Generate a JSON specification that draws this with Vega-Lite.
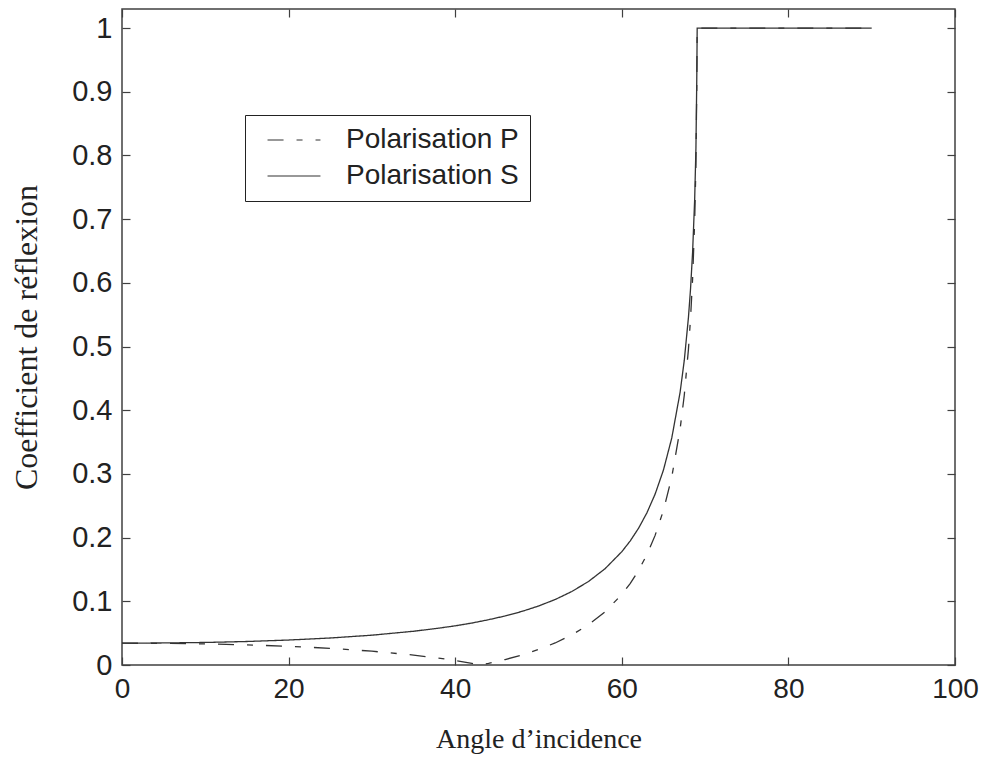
{
  "$schema": "https://vega.github.io/schema/vega-lite/v6.json",
  "autosize": {"type": "none"},
  "padding": {"left": 122, "top": 9, "right": 30, "bottom": 100},
  "width": 833,
  "height": 656,
  "background": "white",
  "config": {
    "view": {"stroke": "#404040", "strokeWidth": 1.5},
    "axis": {
      "grid": false,
      "domain": false,
      "tickColor": "#404040",
      "tickSize": -8,
      "tickWidth": 1.2,
      "labelFlush": false,
      "labelFont": "Liberation Sans",
      "labelFontSize": 28,
      "labelColor": "#222",
      "titleFont": "Liberation Serif",
      "titleFontWeight": "normal",
      "titleColor": "#222"
    }
  },
  "data": {
    "values": [
      {"angle": 0, "r": 0.0343, "series": "Polarisation S"},
      {"angle": 5, "r": 0.0346, "series": "Polarisation S"},
      {"angle": 10, "r": 0.0354, "series": "Polarisation S"},
      {"angle": 15, "r": 0.0369, "series": "Polarisation S"},
      {"angle": 20, "r": 0.0392, "series": "Polarisation S"},
      {"angle": 25, "r": 0.0424, "series": "Polarisation S"},
      {"angle": 30, "r": 0.0468, "series": "Polarisation S"},
      {"angle": 35, "r": 0.0530, "series": "Polarisation S"},
      {"angle": 38, "r": 0.0578, "series": "Polarisation S"},
      {"angle": 40, "r": 0.0615, "series": "Polarisation S"},
      {"angle": 42, "r": 0.0659, "series": "Polarisation S"},
      {"angle": 44, "r": 0.0711, "series": "Polarisation S"},
      {"angle": 46, "r": 0.0770, "series": "Polarisation S"},
      {"angle": 48, "r": 0.0841, "series": "Polarisation S"},
      {"angle": 50, "r": 0.0926, "series": "Polarisation S"},
      {"angle": 52, "r": 0.1028, "series": "Polarisation S"},
      {"angle": 54, "r": 0.1154, "series": "Polarisation S"},
      {"angle": 56, "r": 0.1311, "series": "Polarisation S"},
      {"angle": 58, "r": 0.1513, "series": "Polarisation S"},
      {"angle": 60, "r": 0.1779, "series": "Polarisation S"},
      {"angle": 61, "r": 0.1946, "series": "Polarisation S"},
      {"angle": 62, "r": 0.2145, "series": "Polarisation S"},
      {"angle": 63, "r": 0.2385, "series": "Polarisation S"},
      {"angle": 64, "r": 0.2683, "series": "Polarisation S"},
      {"angle": 65, "r": 0.3061, "series": "Polarisation S"},
      {"angle": 66, "r": 0.3565, "series": "Polarisation S"},
      {"angle": 67, "r": 0.4282, "series": "Polarisation S"},
      {"angle": 67.5, "r": 0.4782, "series": "Polarisation S"},
      {"angle": 68, "r": 0.5456, "series": "Polarisation S"},
      {"angle": 68.25, "r": 0.5903, "series": "Polarisation S"},
      {"angle": 68.5, "r": 0.6482, "series": "Polarisation S"},
      {"angle": 68.75, "r": 0.7316, "series": "Polarisation S"},
      {"angle": 68.9, "r": 0.8115, "series": "Polarisation S"},
      {"angle": 69.0, "r": 0.9191, "series": "Polarisation S"},
      {"angle": 69.05, "r": 1, "series": "Polarisation S"},
      {"angle": 70, "r": 1, "series": "Polarisation S"},
      {"angle": 80, "r": 1, "series": "Polarisation S"},
      {"angle": 90, "r": 1, "series": "Polarisation S"},
      {"angle": 0, "r": 0.0343, "series": "Polarisation P"},
      {"angle": 5, "r": 0.0340, "series": "Polarisation P"},
      {"angle": 10, "r": 0.0331, "series": "Polarisation P"},
      {"angle": 15, "r": 0.0316, "series": "Polarisation P"},
      {"angle": 20, "r": 0.0294, "series": "Polarisation P"},
      {"angle": 25, "r": 0.0262, "series": "Polarisation P"},
      {"angle": 30, "r": 0.0217, "series": "Polarisation P"},
      {"angle": 35, "r": 0.0156, "series": "Polarisation P"},
      {"angle": 38, "r": 0.0108, "series": "Polarisation P"},
      {"angle": 40, "r": 0.0070, "series": "Polarisation P"},
      {"angle": 42, "r": 0.0026, "series": "Polarisation P"},
      {"angle": 43, "r": 0.0001, "series": "Polarisation P"},
      {"angle": 44, "r": 0.0026, "series": "Polarisation P"},
      {"angle": 46, "r": 0.0086, "series": "Polarisation P"},
      {"angle": 48, "r": 0.0157, "series": "Polarisation P"},
      {"angle": 50, "r": 0.0243, "series": "Polarisation P"},
      {"angle": 52, "r": 0.0346, "series": "Polarisation P"},
      {"angle": 54, "r": 0.0473, "series": "Polarisation P"},
      {"angle": 56, "r": 0.0632, "series": "Polarisation P"},
      {"angle": 58, "r": 0.0837, "series": "Polarisation P"},
      {"angle": 60, "r": 0.1107, "series": "Polarisation P"},
      {"angle": 61, "r": 0.1278, "series": "Polarisation P"},
      {"angle": 62, "r": 0.1482, "series": "Polarisation P"},
      {"angle": 63, "r": 0.1729, "series": "Polarisation P"},
      {"angle": 64, "r": 0.2035, "series": "Polarisation P"},
      {"angle": 65, "r": 0.2427, "series": "Polarisation P"},
      {"angle": 66, "r": 0.2952, "series": "Polarisation P"},
      {"angle": 67, "r": 0.3706, "series": "Polarisation P"},
      {"angle": 67.5, "r": 0.4236, "series": "Polarisation P"},
      {"angle": 68, "r": 0.4956, "series": "Polarisation P"},
      {"angle": 68.25, "r": 0.5438, "series": "Polarisation P"},
      {"angle": 68.5, "r": 0.6067, "series": "Polarisation P"},
      {"angle": 68.75, "r": 0.6980, "series": "Polarisation P"},
      {"angle": 68.9, "r": 0.7867, "series": "Polarisation P"},
      {"angle": 69.0, "r": 0.9078, "series": "Polarisation P"},
      {"angle": 69.05, "r": 1, "series": "Polarisation P"},
      {"angle": 70, "r": 1, "series": "Polarisation P"},
      {"angle": 90, "r": 1, "series": "Polarisation P"}
    ]
  },
  "layer": [
    {
      "mark": {"type": "line", "color": "#333", "strokeWidth": 1.3},
      "encoding": {
        "x": {
          "field": "angle", "type": "quantitative",
          "scale": {"domain": [0, 100], "nice": false, "zero": false},
          "axis": {"orient": "bottom", "values": [0, 20, 40, 60, 80, 100], "labelPadding": 18, "title": "Angle d’incidence", "titleFontSize": 28, "titlePadding": 22}
        },
        "y": {
          "field": "r", "type": "quantitative",
          "scale": {"domain": [0, 1.03], "nice": false, "zero": false},
          "axis": {"orient": "left", "values": [0, 0.1, 0.2, 0.3, 0.4, 0.5, 0.6, 0.7, 0.8, 0.9, 1], "labelExpr": "'' + datum.value", "labelPadding": 18, "labelFontSize": 29, "title": "Coefficient de réflexion", "titleFontSize": 32, "titlePadding": 28}
        },
        "strokeDash": {
          "field": "series", "type": "nominal",
          "scale": {"domain": ["Polarisation P", "Polarisation S"], "range": [[16, 13, 6, 13], [1, 0]]},
          "legend": {
            "title": null,
            "orient": "none",
            "legendX": 123,
            "legendY": 106,
            "strokeColor": "#222",
            "fillColor": "white",
            "padding": 11,
            "symbolType": "M-2,0H2",
            "symbolSize": 700,
            "symbolStrokeColor": "#333",
            "symbolStrokeWidth": 1.2,
            "symbolOffset": 24,
            "labelOffset": 38,
            "labelLimit": 0,
            "labelFont": "Liberation Sans",
            "labelFontSize": 28,
            "labelColor": "#222",
            "rowPadding": 8
          }
        }
      }
    },
    {
      "mark": {"type": "line", "opacity": 0},
      "encoding": {
        "x": {
          "field": "angle", "type": "quantitative",
          "axis": {"orient": "top", "values": [0, 20, 40, 60, 80, 100], "labels": false, "title": null}
        },
        "y": {
          "field": "r", "type": "quantitative",
          "axis": {"orient": "right", "values": [0, 0.1, 0.2, 0.3, 0.4, 0.5, 0.6, 0.7, 0.8, 0.9, 1], "labels": false, "title": null}
        },
        "detail": {"field": "series"}
      }
    }
  ],
  "resolve": {"axis": {"x": "independent", "y": "independent"}}
}
